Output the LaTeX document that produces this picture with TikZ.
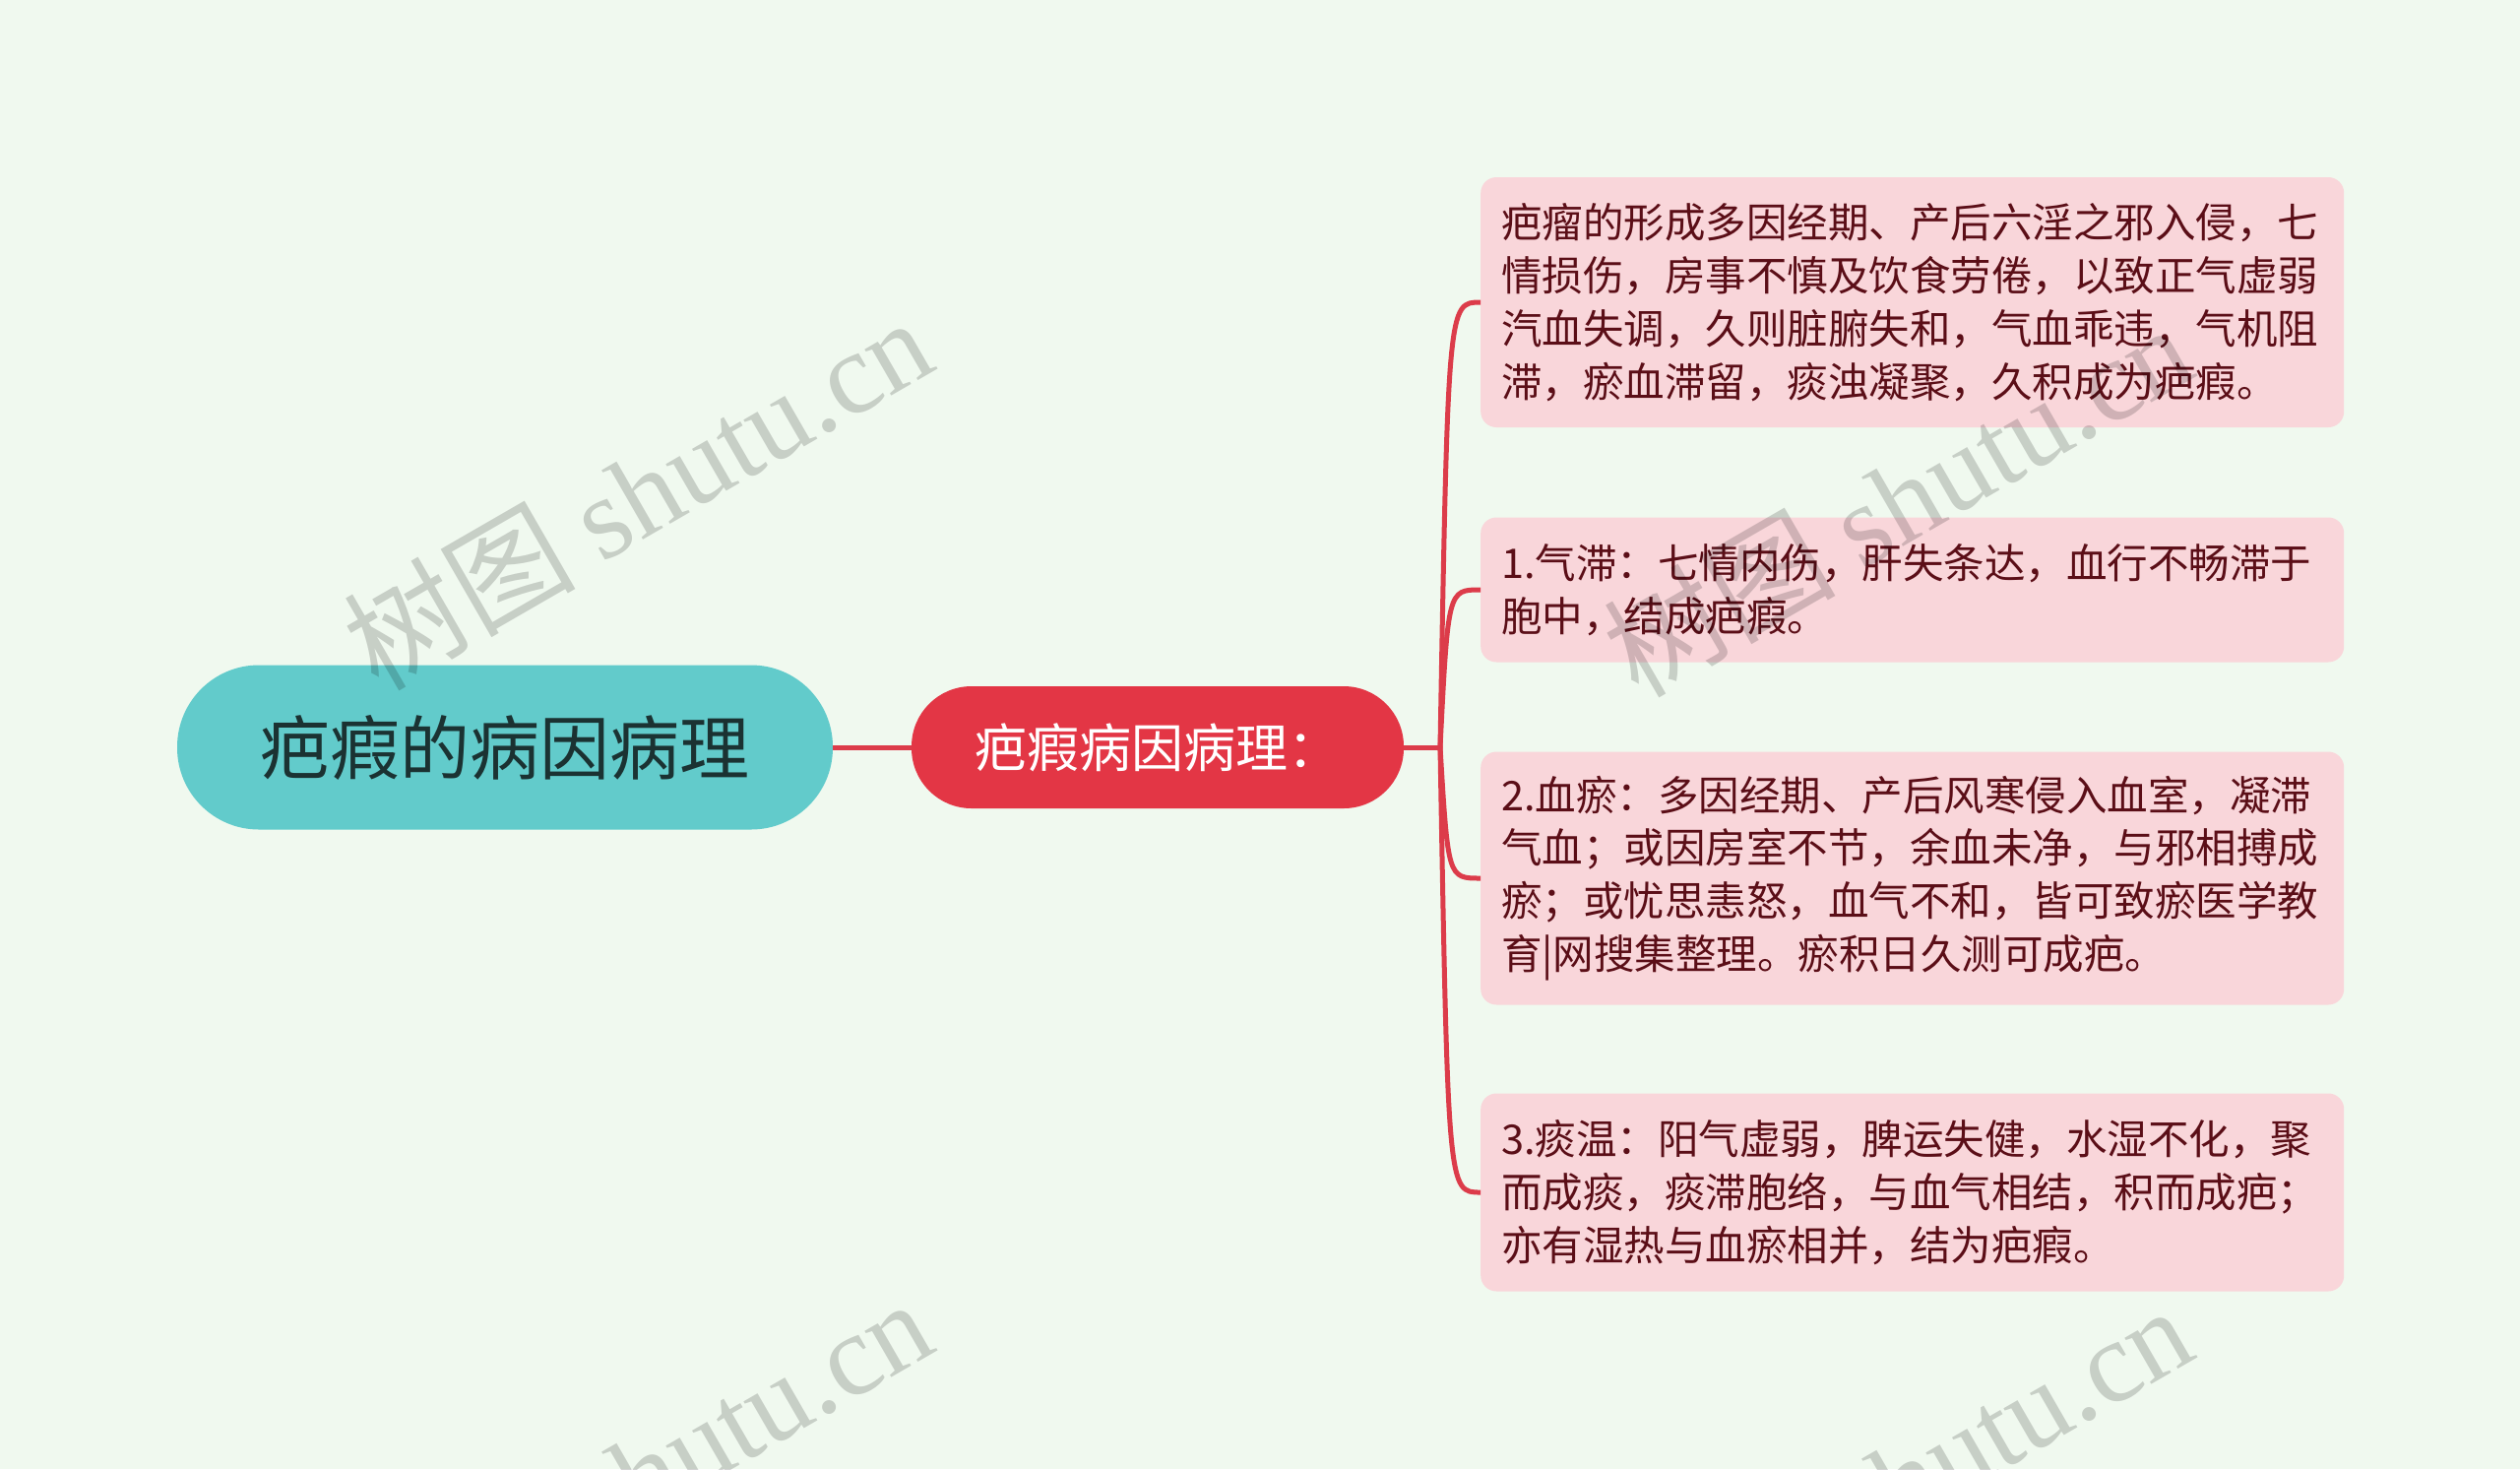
\documentclass[tikz,border=0pt]{standalone}
\usepackage{fontspec}
\setmainfont{Noto Sans CJK SC}
\newfontfamily\wmlatin{Liberation Serif}
\usetikzlibrary{calc}
\definecolor{bgc}{HTML}{F0F9EF}
\definecolor{rootc}{HTML}{62CBCB}
\definecolor{roottext}{HTML}{1B3232}
\definecolor{midc}{HTML}{E33645}
\definecolor{leafc}{HTML}{F9D6DA}
\definecolor{leaftext}{HTML}{5B0E17}
\definecolor{linec}{HTML}{DC3C4A}
\tikzset{
  rootbox/.style={fill=rootc, rounded corners=83pt, minimum width=666pt, minimum height=167pt, inner sep=0pt, text=roottext, font=\fontsize{71}{80}\selectfont},
  midbox/.style={fill=midc, rounded corners=61pt, minimum width=500pt, minimum height=124pt, inner sep=0pt, text=white, font=\fontsize{53}{60}\selectfont},
  leafbox/.style={fill=leafc, rounded corners=16pt, text width=835pt, inner xsep=21pt, inner ysep=0pt, align=left, anchor=west, text=leaftext, font=\fontsize{41.5}{53.9}\selectfont},
  conn/.style={draw=linec, line width=5pt},
  wm/.style={rotate=30, text=black, text opacity=0.17, font=\fontsize{118}{124}\selectfont, inner sep=0pt}
}
\begin{document}
\begin{tikzpicture}[x=1pt,y=-1pt]
\useasboundingbox (0,0) rectangle (2560,1492);
\fill[bgc] (0,0) rectangle (2560,1492);

\node[rootbox] (root) at (513,759) {疤瘕的病因病理};
\node[midbox] (mid) at (1176,759) {疤瘕病因病理：};

\node[leafbox, minimum height=254pt] (b1) at (1504,307) {疤瘤的形成多因经期、产后六淫之邪入侵，七\\情损伤，房事不慎及饮食劳倦，以致正气虚弱\\汽血失调，久则脏腑失和，气血乖违，气机阻\\滞，瘀血滞留，痰浊凝聚，久积成为疤瘕。};
\node[leafbox, minimum height=147pt] (b2) at (1504,599) {1.气滞：七情内伤，肝失条达，血行不畅滞于\\胞中，结成疤瘕。};
\node[leafbox, minimum height=257pt] (b3) at (1504,892) {2.血瘀：多因经期、产后风寒侵入血室，凝滞\\气血；或因房室不节，余血未净，与邪相搏成\\瘀；或忧思恚怒，血气不和，皆可致瘀医学教\\育|网搜集整理。瘀积日久测可成疤。};
\node[leafbox, minimum height=201pt] (b4) at (1504,1211) {3.痰温：阳气虚弱，脾运失健，水湿不化，聚\\而成痰，痰滞胞络，与血气相结，积而成疤；\\亦有湿热与血瘀相并，结为疤瘕。};

\coordinate (hub) at (1463,759);
\draw[conn] (root.east) -- (mid.west);
\draw[conn] (mid.east) -- (hub);
\foreach \b in {b1,b2,b3,b4}{
  \draw[conn] (hub) .. controls ($(hub|-\b.west)+(8,0)$) .. (\b.west);
}

\node[wm] (wm1) at (647,500) {树图 {\wmlatin shutu.cn}};
\node[wm] (wm2) at (1927,507) {树图 {\wmlatin shutu.cn}};
\node[wm] (wm3) at (647,1497) {树图 {\wmlatin shutu.cn}};
\node[wm] (wm4) at (1927,1504) {树图 {\wmlatin shutu.cn}};
\end{tikzpicture}
\end{document}
